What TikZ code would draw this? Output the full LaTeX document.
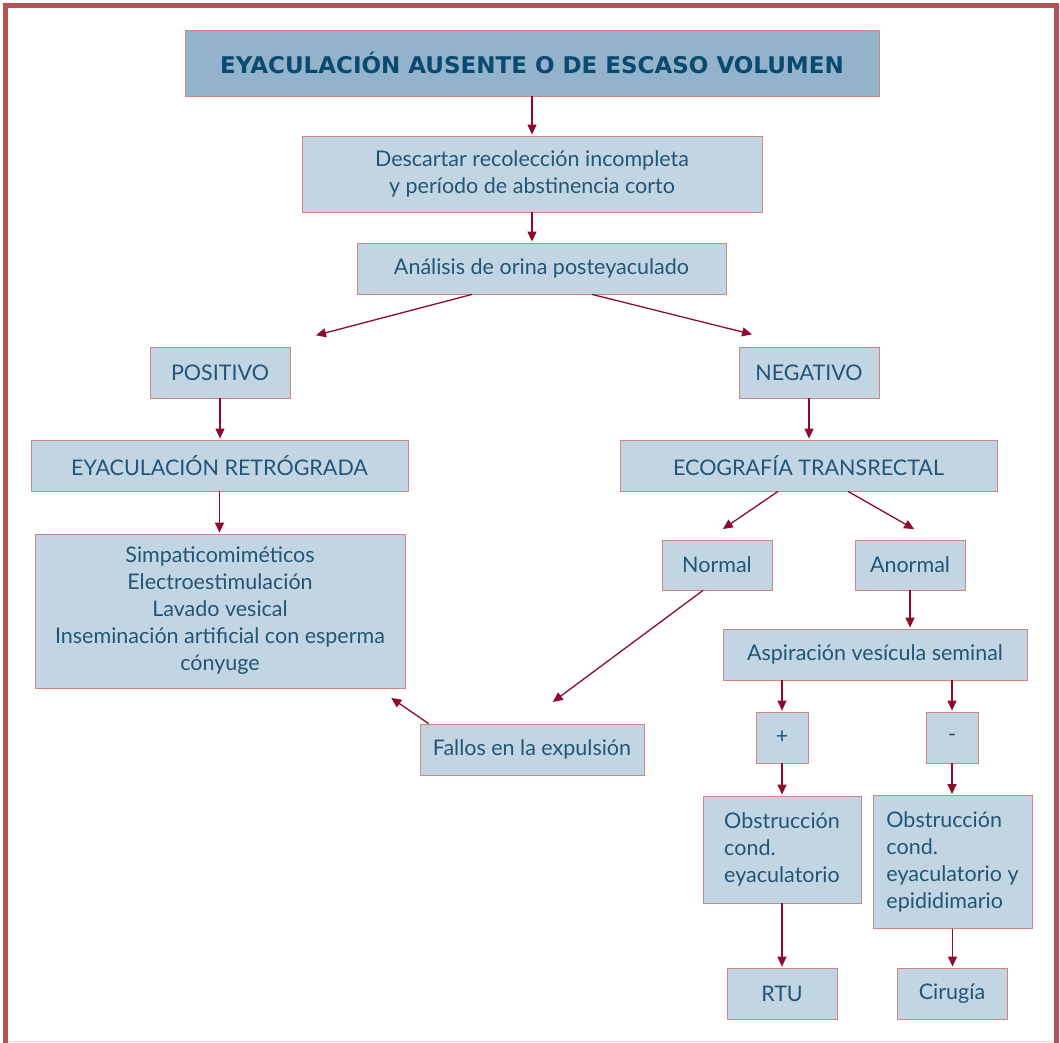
\documentclass[tikz,border=0pt]{standalone}
\usepackage{fontspec}
\setmainfont{Lato}
\newfontfamily\titlefont{DejaVu Sans}
\usetikzlibrary{arrows.meta}
\definecolor{boxfill}{HTML}{C2D5E3}
\definecolor{titlefill}{HTML}{93B3CC}
\definecolor{boxline}{HTML}{D08585}
\definecolor{arrowred}{HTML}{8E0B2E}
\definecolor{framered}{HTML}{B35257}
\definecolor{textblue}{HTML}{235575}
\definecolor{titleblue}{HTML}{0B4A6F}
\begin{document}
\begin{tikzpicture}[x=1pt,y=-1pt,
  box/.style={draw=boxline,fill=boxfill,line width=0.8pt,text=textblue,
    font=\fontsize{21.5}{27}\selectfont,align=center,inner sep=0pt},
  titlebox/.style={box,fill=titlefill,text=titleblue,
    font=\titlefont\fontsize{23}{27}\selectfont\bfseries},
  link/.style={draw=arrowred,line width=1.3pt,shorten >=1pt,
    -{Triangle[length=10pt,width=9pt]}}]
\useasboundingbox (0,0) rectangle (1060,1043);
% Frame
\draw[framered,line width=5pt] (5.5,1043) -- (5.5,5.5) -- (1056,5.5) -- (1056,1043);
\draw[boxline!35,line width=1pt] (8,1041) -- (1053,1041);
% Boxes
\node[titlebox,minimum width=694pt,minimum height=66pt] (title) at (532,63) {EYACULACIÓN AUSENTE O DE ESCASO VOLUMEN};
\node[box,minimum width=460pt,minimum height=76pt] (desc) at (532,174) {Descartar recolección incompleta\\y período de abstinencia corto};
\node[box,minimum width=369pt,minimum height=51pt] (anal) at (541.5,268.5) {Análisis de orina posteyaculado};
\node[box,minimum width=140pt,minimum height=51pt] (pos) at (220,372.5) {POSITIVO};
\node[box,minimum width=140pt,minimum height=51pt] (neg) at (809,372.5) {NEGATIVO};
\node[box,minimum width=377pt,minimum height=51pt] (retro) at (219.5,465.5) {EYACULACIÓN RETRÓGRADA};
\node[box,minimum width=377pt,minimum height=51pt] (eco) at (808.5,465.5) {ECOGRAFÍA TRANSRECTAL};
\node[box,minimum width=370pt,minimum height=154pt] (simp) at (220,611) {Simpaticomiméticos\\Electroestimulación\\Lavado vesical\\Inseminación artificial con esperma\\cónyuge};
\node[box,minimum width=110pt,minimum height=50pt] (normal) at (717,565) {Normal};
\node[box,minimum width=110pt,minimum height=50pt] (anormal) at (910,565) {Anormal};
\node[box,minimum width=304pt,minimum height=51pt] (aspir) at (875,654.5) {Aspiración vesícula seminal};
\node[box,minimum width=224pt,minimum height=51pt] (fallos) at (532,749.5) {Fallos en la expulsión};
\node[box,minimum width=52pt,minimum height=51pt] (plus) at (782,737.5) {+};
\node[box,minimum width=52pt,minimum height=51pt] (minus) at (952,737.5) {-};
\node[box,align=left,minimum width=158pt,minimum height=107pt] (obs1) at (782,849.5) {Obstrucción\\cond.\\eyaculatorio};
\node[box,align=left,minimum width=159pt,minimum height=133pt] (obs2) at (952.5,862) {Obstrucción\\cond.\\eyaculatorio y\\epididimario};
\node[box,minimum width=110pt,minimum height=51pt] (rtu) at (782,993.5) {RTU};
\node[box,minimum width=110pt,minimum height=51pt] (cir) at (952,993.5) {Cirugía};
% Arrows
\draw[link] (title.south) -- (desc.north);
\draw[link] (desc.south) -- (desc.south |- anal.north);
\draw[link] ([xshift=-69.5pt]anal.south) -- ([xshift=95pt,yshift=11pt]pos.north);
\draw[link] ([xshift=50.5pt]anal.south) -- ([xshift=-56pt,yshift=12pt]neg.north);
\draw[link] (pos.south) -- (pos.south |- retro.north);
\draw[link] (neg.south) -- (neg.south |- eco.north);
\draw[link] (retro.south) -- (retro.south |- simp.north);
\draw[link] ([xshift=-30.5pt]eco.south) -- ([xshift=5pt,yshift=10pt]normal.north);
\draw[link] ([xshift=39.5pt]eco.south) -- ([xshift=5pt,yshift=10pt]anormal.north);
\draw[link] (anormal.south) -- (anormal.south |- aspir.north);
\draw[link] ([xshift=-14pt]normal.south) -- ([xshift=20pt,yshift=21pt]fallos.north);
\draw[link] ([xshift=9pt]fallos.north west) -- ([xshift=-15pt,yshift=-9pt]simp.south east);
\draw[link] (plus.north |- aspir.south) -- (plus.north);
\draw[link] (minus.north |- aspir.south) -- (minus.north);
\draw[link] (plus.south) -- (plus.south |- obs1.north);
\draw[link] (minus.south) -- (minus.south |- obs2.north);
\draw[link] (obs1.south) -- (obs1.south |- rtu.north);
\draw[link] (obs2.south) -- (obs2.south |- cir.north);
\end{tikzpicture}
\end{document}
